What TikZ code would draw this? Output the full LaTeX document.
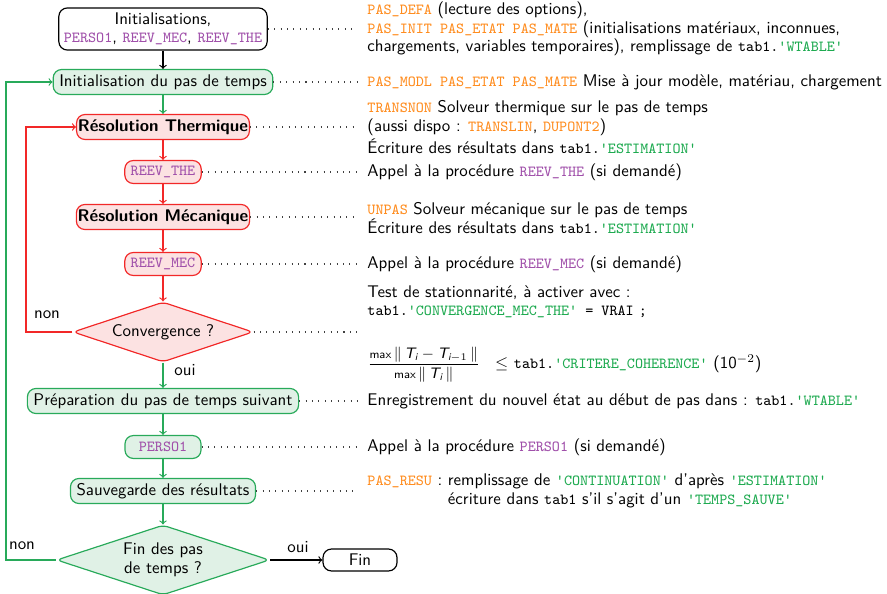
\documentclass[tikz,border=0pt]{standalone}
\usepackage{amsmath}
\usetikzlibrary{shapes.geometric}
\renewcommand{\familydefault}{\sfdefault}

\definecolor{gline}{RGB}{40,170,90}
\definecolor{gfill}{RGB}{224,241,230}
\definecolor{rline}{RGB}{242,40,40}
\definecolor{rfill}{RGB}{252,226,226}
\definecolor{purp}{RGB}{160,80,170}
\definecolor{orng}{RGB}{255,140,30}
\definecolor{codeg}{RGB}{30,170,80}

% code snippets: plain, procedure (purple), operator (orange), quoted key (green)
\newcommand\cd[1]{{\fontsize{9.1}{11}\selectfont\ttfamily #1}}
\newcommand\cpr[1]{\textcolor{purp}{\cd{#1}}}
\newcommand\cop[1]{\textcolor{orng}{\cd{#1}}}
\newcommand\ckey[1]{\textcolor{codeg}{\cd{\textquotesingle#1\textquotesingle}}}
% sans italic variables for the criterion
\newcommand\Tv[1]{\text{\itshape T}_{#1}}
\newcommand\iv{\text{\itshape i}}
\newcommand\mx{\text{\fontsize{7}{8}\selectfont max}}

\tikzset{
  base/.style={rounded corners=5pt, line width=0.7pt, inner xsep=3.6pt,
    inner ysep=2.5pt, minimum height=14.8pt, align=center},
  gbox/.style={base, draw=gline, fill=gfill},
  rbox/.style={base, draw=rline, fill=rfill},
  kbox/.style={base, draw=black, fill=white},
  boldbox/.style={rbox, inner xsep=0.8pt, font=\fontsize{10}{11}\selectfont\bfseries},
  codebox/.style={inner xsep=3.5pt, minimum height=13.6pt, minimum width=45pt},
  dia/.style={diamond, aspect=3, inner sep=0pt, rounded corners=3pt,
    line width=0.7pt, align=center},
  gdia/.style={dia, draw=gline, fill=gfill},
  rdia/.style={dia, draw=rline, fill=rfill},
  note/.style={anchor=west, align=left, inner xsep=6pt, inner ysep=0pt},
  dots/.style={line width=0.6pt, dash pattern=on 0.6pt off 3.2pt, black!75},
  arr/.style={->, line width=0.7pt},
  lbl/.style={inner sep=1pt}
}

\begin{document}
\begin{tikzpicture}[x=0.592pt, y=-0.592pt, font=\fontsize{10}{11}\selectfont]
\useasboundingbox (0,0) rectangle (887,594);

% main column
\node[kbox, inner xsep=3pt, inner ysep=2.8pt] (init) at (163,29)
  {Initialisations,\\ \cpr{PERSO1}, \cpr{REEV\_MEC}, \cpr{REEV\_THE}};
\node[gbox] (pas) at (163,82) {Initialisation du pas de temps};
\node[boldbox] (rth) at (163,127) {Résolution Thermique};
\node[rbox, codebox] (rthe) at (163,172) {\cpr{REEV\_THE}};
\node[boldbox] (rmec) at (163,217) {Résolution Mécanique};
\node[rbox, codebox] (rmecp) at (163,264) {\cpr{REEV\_MEC}};
\node[rdia, minimum width=106.6pt, minimum height=35.5pt] (conv) at (163,332) {Convergence ?};
\node[gbox] (prep) at (163,401) {Préparation du pas de temps suivant};
\node[gbox, codebox] (perso) at (163,447) {\cpr{PERSO1}};
\node[gbox] (sauv) at (163,491) {Sauvegarde des résultats};
\node[gdia, minimum width=126pt, minimum height=41.4pt] (fin) at (163,560) {Fin des pas\\de temps ?};
\node[kbox, minimum width=43.8pt, minimum height=13pt, inner ysep=1pt] (end) at (360,560) {Fin};

% loop anchors
\coordinate (rloop) at (26,0);
\coordinate (gloop) at (6,0);

% flow
\draw[arr] (init) -- (pas);
\draw[arr, gline] (pas) -- (rth);
\draw[arr, rline] (rth) -- (rthe);
\draw[arr, rline] (rthe) -- (rmec);
\draw[arr, rline] (rmec) -- (rmecp);
\draw[arr, rline] (rmecp) -- (conv);
\draw[arr, gline] (conv) -- (prep);
\draw[arr, gline] (prep) -- (perso);
\draw[arr, gline] (perso) -- (sauv);
\draw[arr, gline] (sauv) -- (fin);
\draw[arr] (fin) -- (end);
\draw[arr, rline] (conv.west) -- (conv.west -| rloop) |- (rth.west);
\draw[arr, gline] (fin.west) -- (fin.west -| gloop) |- (pas.west);

\node[lbl] (nonr) at (47,315) {non};
\node[lbl] (ouic) at (185,370) {oui};
\node[lbl] (nong) at (22,546) {non};
\node[lbl] (ouif) at (298,547) {oui};

% notes
\node[note] (t1) at (357,29) {\cop{PAS\_DEFA} (lecture des options),\\
  \cop{PAS\_INIT PAS\_ETAT PAS\_MATE} (initialisations matériaux, inconnues,\\
  chargements, variables temporaires), remplissage de \cd{tab1.}\ckey{WTABLE}};
\node[note] (t2) at (357,82) {\cop{PAS\_MODL PAS\_ETAT PAS\_MATE} Mise à jour modèle, matériau, chargement};
\node[note] (t3) at (357,127) {\cop{TRANSNON} Solveur thermique sur le pas de temps\\
  (aussi dispo : \cop{TRANSLIN}, \cop{DUPONT2})\\[1pt]
  Écriture des résultats dans \cd{tab1.}\ckey{ESTIMATION}};
\node[note] (t4) at (357,172) {Appel à la procédure \cpr{REEV\_THE} (si demandé)};
\node[note] (t5) at (357,218) {\cop{UNPAS} Solveur mécanique sur le pas de temps\\
  Écriture des résultats dans \cd{tab1.}\ckey{ESTIMATION}};
\node[note] (t6) at (357,264) {Appel à la procédure \cpr{REEV\_MEC} (si demandé)};
\node[note] (t7) at (357,334) {Test de stationnarité, à activer avec :\\
  \cd{tab1.}\ckey{CONVERGENCE\_MEC\_THE}\cd{ = VRAI\hspace{3pt};}\\[16pt]
  {\fontsize{9}{10}\selectfont$\dfrac{\mx\,\|\,\Tv{\iv}-\Tv{\iv-1}\,\|}{\mx\,\|\,\Tv{\iv}\,\|}$}\hspace{9pt}$\le$
  \cd{tab1.}\ckey{CRITERE\_COHERENCE} (10$^{-2}$)};
\node[note] (t8) at (357,401) {Enregistrement du nouvel état au début de pas dans : \cd{tab1.}\ckey{WTABLE}};
\node[note] (t9) at (357,447) {Appel à la procédure \cpr{PERSO1} (si demandé)};
\node[note] (t10) at (357,491) {\cop{PAS\_RESU} : \begin{tabular}[t]{@{}l@{}}
  remplissage de \ckey{CONTINUATION} d'après \ckey{ESTIMATION}\\
  écriture dans \cd{tab1} s'il s'agit d'un \ckey{TEMPS\_SAUVE}\end{tabular}};

% leaders
\draw[dots] (init.east) -- (t1.west);
\draw[dots] (pas.east) -- (t2.west);
\draw[dots] (rth.east) -- (t3.west);
\draw[dots] (rthe.east) -- (t4.west);
\draw[dots] (rmec.east) -- (rmec.east -| t5.west);
\draw[dots] (rmecp.east) -- (t6.west);
\draw[dots] (conv.east) -- (conv.east -| t7.west);
\draw[dots] (prep.east) -- (t8.west);
\draw[dots] (perso.east) -- (t9.west);
\draw[dots] (sauv.east) -- (t10.west);
\end{tikzpicture}
\end{document}
